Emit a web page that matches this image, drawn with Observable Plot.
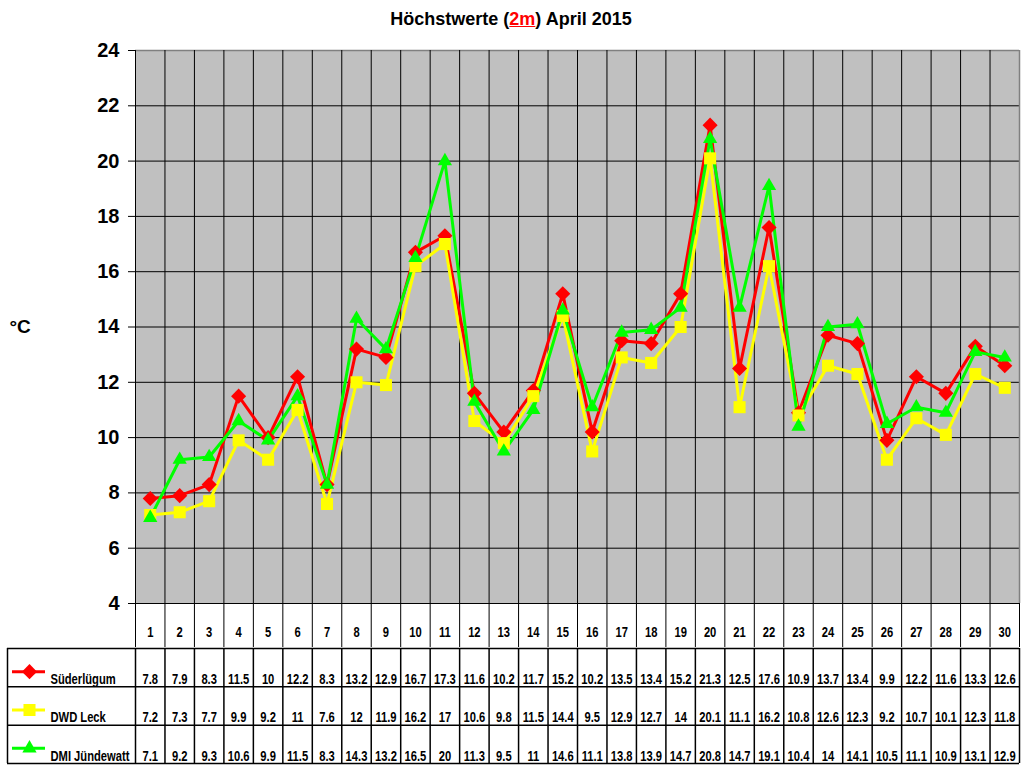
<!DOCTYPE html>
<html><head><meta charset="utf-8">
<script src="https://cdn.jsdelivr.net/npm/d3@7"></script>
<script src="https://cdn.jsdelivr.net/npm/@observablehq/plot@0.6"></script>
<style>
body{margin:0;background:#fff;width:1024px;height:768px;overflow:hidden;position:relative;font-family:"Liberation Sans",Arial,sans-serif}
#title{position:absolute;top:9px;left:0;width:1022px;text-align:center;font-weight:bold;font-size:18px;color:#000;z-index:2}
#title .r{color:#f00;text-decoration:underline}
svg{display:block}
</style></head><body>
<div id="title">Höchstwerte (<span class="r">2m</span>) April 2015</div>
<div id="chart"></div>
<script>
const days = [1,2,3,4,5,6,7,8,9,10,11,12,13,14,15,16,17,18,19,20,21,22,23,24,25,26,27,28,29,30];
const suederluegum = [7.8,7.9,8.3,11.5,10,12.2,8.3,13.2,12.9,16.7,17.3,11.6,10.2,11.7,15.2,10.2,13.5,13.4,15.2,21.3,12.5,17.6,10.9,13.7,13.4,9.9,12.2,11.6,13.3,12.6];
const dwdLeck = [7.2,7.3,7.7,9.9,9.2,11,7.6,12,11.9,16.2,17,10.6,9.8,11.5,14.4,9.5,12.9,12.7,14,20.1,11.1,16.2,10.8,12.6,12.3,9.2,10.7,10.1,12.3,11.8];
const dmiJuendewatt = [7.1,9.2,9.3,10.6,9.9,11.5,8.3,14.3,13.2,16.5,20,11.3,9.5,11,14.6,11.1,13.8,13.9,14.7,20.8,14.7,19.1,10.4,14,14.1,10.5,11.1,10.9,13.1,12.9];
const seriesNames = ["Süderlügum","DWD Leck","DMI Jündewatt"];
const seriesValues = [suederluegum, dwdLeck, dmiJuendewatt];
const seriesColors = ["#ff0000","#ffff00","#00ff00"];
const seriesSymbols = ["diamond2","square","triangle"];
const markerR = [6.8,6.8,5.3];
const yTicks = [4,6,8,10,12,14,16,18,20,22,24];

const bounds = [0, ...days].map(d => d + 0.5);
const font = "'Liberation Sans',Arial,sans-serif";

const chart = Plot.plot({
  width: 1024, height: 647,
  marginLeft: 135, marginRight: 5, marginTop: 50, marginBottom: 44,
  style: {fontFamily: font, background: "white", color: "black", overflow: "visible"},
  x: {type: "linear", domain: [0.5, 30.5]},
  y: {domain: [4, 24]},
  marks: [
    Plot.frame({fill: "#c0c0c0", stroke: "none"}),
    Plot.ruleY(yTicks.filter(t => t < 24), {stroke: "black", strokeWidth: 1}),
    Plot.ruleY([24], {stroke: "#808080", strokeWidth: 1.5}),
    Plot.ruleX(bounds.slice(0, -1), {stroke: "black", strokeWidth: 1}),
    Plot.ruleX([30.5], {stroke: "#808080", strokeWidth: 1.5}),
    Plot.ruleX(bounds, {y1: 4, y2: 4, insetBottom: -44, stroke: "black", strokeWidth: 1}),
    Plot.axisY(yTicks, {tickSize: 7, tickPadding: 9, fontSize: 20, fontWeight: "bold", label: null}),
    Plot.axisX(days, {tickSize: 0, tickPadding: 24, fontSize: 14, fontWeight: "bold", label: null}),
    Plot.text(["°C"], {frameAnchor: "left", dx: -126, textAnchor: "start", fontSize: 19, fontWeight: "bold"}),
    ...seriesNames.map((s, i) => Plot.line(days, {x: d => d, y: (d, j) => seriesValues[i][j], stroke: seriesColors[i], strokeWidth: 3})),
    ...seriesNames.map((s, i) => Plot.dot(days, {x: d => d, y: (d, j) => seriesValues[i][j], symbol: seriesSymbols[i], fill: seriesColors[i], stroke: "none", r: markerR[i]}))
  ]
});

const cells = seriesNames.flatMap((s, i) => days.map((d, j) => ({si: i, day: d, value: seriesValues[i][j]})));

const table = Plot.plot({
  width: 1024, height: 121,
  marginLeft: 135, marginRight: 5, marginTop: 1, marginBottom: 5,
  style: {fontFamily: font, background: "white", color: "black", overflow: "visible"},
  x: {type: "linear", domain: [0.5, 30.5], axis: null},
  y: {domain: [0, 3], reverse: true, axis: null},
  marks: [
    Plot.ruleY([0, 1, 2, 3], {insetLeft: -128, stroke: "black", strokeWidth: 1.5}),
    Plot.ruleX(bounds, {stroke: "black", strokeWidth: 1.5}),
    Plot.ruleX([0.5], {dx: -128, stroke: "black", strokeWidth: 1.5}),
    Plot.text(cells, {x: "day", y: d => d.si + 0.5, text: d => String(d.value), dy: 12, fontSize: 14, fontWeight: "bold", fill: "black"}),
    Plot.text(seriesNames, {y: (d, i) => i + 0.5, text: d => d, frameAnchor: "left", dx: -85, dy: 12, textAnchor: "start", fontSize: 14, fontWeight: "bold", fill: "black"}),
    ...seriesNames.map((s, i) => Plot.ruleY([i + 0.5], {insetLeft: -123, insetRight: 974, dy: 4, stroke: seriesColors[i], strokeWidth: 3})),
    ...seriesNames.map((s, i) => Plot.dot([i + 0.5], {y: d => d, frameAnchor: "left", dx: -106, dy: 4, symbol: seriesSymbols[i], fill: seriesColors[i], stroke: "none", r: markerR[i]}))
  ]
});

// horizontally condense the table text (the reference uses a narrow face)
function condense(t) {
  const tr = t.getAttribute("transform") || "";
  t.setAttribute("transform", tr + " scale(0.8,1)");
}
table.querySelectorAll("text").forEach(condense);
chart.querySelectorAll('g[aria-label="x-axis tick label"] text').forEach(condense);

document.getElementById("chart").append(chart, table);
</script>
</body></html>
